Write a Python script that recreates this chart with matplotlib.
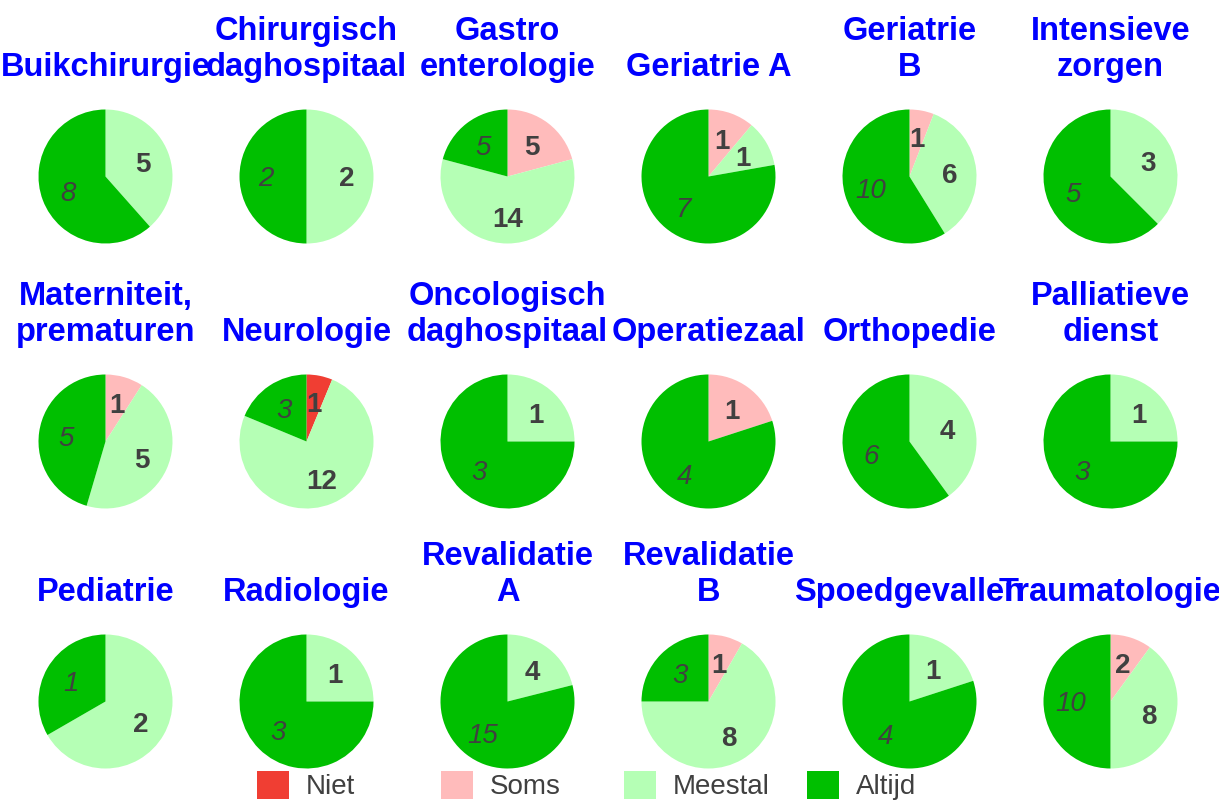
import matplotlib
matplotlib.use("Agg")
import matplotlib.pyplot as plt
from matplotlib.patches import Patch
import numpy as np

plt.rcParams['font.family'] = ['Liberation Sans', 'DejaVu Sans']

departments = ["Buikchirurgie", "Chirurgisch\ndaghospitaal", "Gastro\nenterologie", "Geriatrie A",
               "Geriatrie\nB", "Intensieve\nzorgen",
               "Materniteit,\nprematuren", "Neurologie", "Oncologisch\ndaghospitaal", "Operatiezaal",
               "Orthopedie", "Palliatieve\ndienst",
               "Pediatrie", "Radiologie", "Revalidatie\nA", "Revalidatie\nB", "Spoedgevallen",
               "Traumatologie"]
categories = ["Niet", "Soms", "Meestal", "Altijd"]
niet =    [0, 0, 0, 0, 0, 0, 0, 1, 0, 0, 0, 0, 0, 0, 0, 0, 0, 0]
soms =    [0, 0, 5, 1, 1, 0, 1, 0, 0, 1, 0, 0, 0, 0, 0, 1, 0, 2]
meestal = [5, 2, 14, 1, 6, 3, 5, 12, 1, 0, 4, 1, 2, 1, 4, 8, 1, 8]
altijd =  [8, 2, 5, 7, 10, 5, 5, 3, 3, 4, 6, 3, 1, 3, 15, 3, 4, 10]

colors = ["#F03E33", "#FFBBBB", "#B5FFB5", "#00BF00"]
label_color = "#404040"

W, H = 1219, 801
fig = plt.figure(figsize=(W / 100, H / 100), dpi=100)

col_x = [105.5 + 201 * i for i in range(6)]
row_y = [176.5, 441.5, 701.5]
R = 67.0
title_bottom = [83.0, 348.0, 608.0]

series = [niet, soms, meestal, altijd]
for k, name in enumerate(departments):
    r, c = divmod(k, 6)
    cx, cy = col_x[c], row_y[r]
    ax = fig.add_axes([(cx - R) / W, 1 - (cy + R) / H, 2 * R / W, 2 * R / H])
    vals = [s[k] for s in series]
    idx = [i for i, v in enumerate(vals) if v > 0]
    wedges, _ = ax.pie([vals[i] for i in idx], colors=[colors[i] for i in idx],
                       startangle=90, counterclock=False, radius=1.0,
                       wedgeprops=dict(linewidth=0))
    for w, i in zip(wedges, idx):
        ang = np.deg2rad((w.theta1 + w.theta2) / 2)
        x, y = 0.6 * np.cos(ang), 0.6 * np.sin(ang)
        if i == 3:
            ax.text(x, y, str(vals[i]), ha='center', va='center_baseline', fontsize=20,
                    style='italic', color=label_color)
        else:
            ax.text(x, y, str(vals[i]), ha='center', va='center_baseline', fontsize=20,
                    fontweight='bold', color=label_color)
    ax.set_xlim(-1, 1)
    ax.set_ylim(-1, 1)
    ax.set_aspect('equal')
    ax.axis('off')
    fig.text(cx / W, 1 - title_bottom[r] / H, name, ha='center', va='bottom',
             fontsize=23.5, fontweight='bold', color='#0000FF', linespacing=1.2,
             multialignment='center')

leg_x = [257, 441, 624, 807]
for x, cat, col in zip(leg_x, categories, colors):
    fig.legend(handles=[Patch(facecolor=col, edgecolor='none')], labels=[cat],
               loc='upper left', bbox_to_anchor=(x / W, 1 - 771 / H),
               frameon=False, fontsize=20, borderpad=0, borderaxespad=0,
               handlelength=1.15, handleheight=1.15, handletextpad=0.6,
               labelcolor=label_color)

fig.savefig("out.png", dpi=100)
